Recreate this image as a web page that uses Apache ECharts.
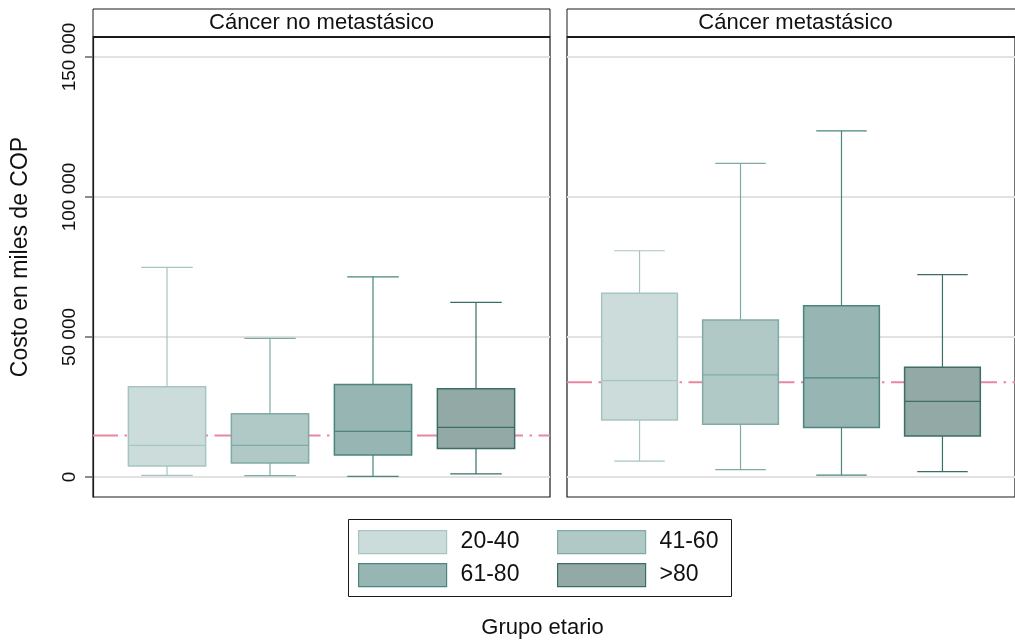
<!DOCTYPE html>
<html>
<head>
<meta charset="utf-8">
<script src="https://cdn.jsdelivr.net/npm/echarts@6/dist/echarts.min.js"></script>
<style>html,body{margin:0;padding:0;background:#fff}#c{width:1015px;height:641px}</style>
</head>
<body>
<div id="c"></div>
<script>
// ---- data (costs in thousands of COP) ----
const groups = ['20-40', '41-60', '61-80', '>80'];
const panels = ['Cáncer no metastásico', 'Cáncer metastásico'];
const yTicks = [0, 50000, 100000, 150000];

const noMetMin = [600, 500, 200, 1100];
const noMetQ1 = [3900, 5000, 7900, 10200];
const noMetMed = [11300, 11300, 16300, 17700];
const noMetQ3 = [32200, 22600, 33000, 31500];
const noMetMax = [74900, 49500, 71500, 62400];
const noMetRef = 14800;

const metMin = [5700, 2600, 700, 1900];
const metQ1 = [20400, 18800, 17700, 14600];
const metMed = [34400, 36500, 35400, 27000];
const metQ3 = [65600, 56100, 61200, 39200];
const metMax = [80800, 112000, 123600, 72300];
const metRef = 33800;

// ---- styles ----
const FONT = "'Liberation Sans', Arial, Helvetica, sans-serif";
const fills = ['#CBDCDA', '#B1C9C6', '#97B5B2', '#93A9A5'];
const strokes = ['#A6C5C2', '#80AAA4', '#4B857D', '#3C6E67'];
const BOX_W = 0.75, CAP_W = 0.5;
const XMIN = 1 - 74 / 103, XMAX = 4 + 74 / 103;
const YMIN = -50000 / 7, YMAX = 1100000 / 7;

function makeRender(gi) {
  return function (params, api) {
    const x = api.value(0);
    const lo = api.value(1), q1 = api.value(2), med = api.value(3), q3 = api.value(4), hi = api.value(5);
    const L = api.coord([x - BOX_W / 2, q3]);
    const R = api.coord([x + BOX_W / 2, q1]);
    const cL = api.coord([x - CAP_W / 2, hi]);
    const cR = api.coord([x + CAP_W / 2, lo]);
    const c = api.coord([x, med]);
    const yHi = api.coord([x, hi])[1], yLo = api.coord([x, lo])[1];
    const st = { stroke: strokes[gi], lineWidth: 1.2 };
    return {
      type: 'group',
      children: [
        { type: 'line', shape: { x1: c[0], y1: yHi, x2: c[0], y2: L[1] }, style: st },
        { type: 'line', shape: { x1: c[0], y1: R[1], x2: c[0], y2: yLo }, style: st },
        { type: 'line', shape: { x1: cL[0], y1: yHi, x2: cR[0], y2: yHi }, style: st },
        { type: 'line', shape: { x1: cL[0], y1: yLo, x2: cR[0], y2: yLo }, style: st },
        { type: 'rect', shape: { x: L[0], y: L[1], width: R[0] - L[0], height: R[1] - L[1] },
          style: { fill: fills[gi], stroke: strokes[gi], lineWidth: 1.5 } },
        { type: 'line', shape: { x1: L[0], y1: c[1], x2: R[0], y2: c[1] }, style: { stroke: strokes[gi], lineWidth: 1.3 } }
      ]
    };
  };
}

const panelData = [
  { min: noMetMin, q1: noMetQ1, med: noMetMed, q3: noMetQ3, max: noMetMax, ref: noMetRef },
  { min: metMin, q1: metQ1, med: metMed, q3: metQ3, max: metMax, ref: metRef }
];

const series = [];
panelData.forEach((p, pi) => {
  series.push({
    type: 'line', xAxisIndex: pi, yAxisIndex: pi, z: 1, silent: true,
    showSymbol: false, symbol: 'none',
    data: [[XMIN, p.ref], [XMAX, p.ref]],
    lineStyle: { color: '#E8879F', width: 2, type: [25, 6.5, 2.5, 6.5] }
  });
  groups.forEach((g, gi) => {
    series.push({
      type: 'custom', name: g, xAxisIndex: pi, yAxisIndex: pi, z: 3,
      renderItem: makeRender(gi),
      itemStyle: { color: fills[gi], borderColor: strokes[gi] },
      encode: { x: 0, y: [1, 2, 3, 4, 5] },
      data: [[gi + 1, p.min[gi], p.q1[gi], p.med[gi], p.q3[gi], p.max[gi]]]
    });
  });
});

const gridLefts = [93, 567];
const PW = 457;

const fmt = v => String(v).replace(/\B(?=(\d{3})+(?!\d))/g, ' ');

const option = {
  animation: false,
  backgroundColor: '#fff',
  textStyle: { fontFamily: FONT },
  grid: gridLefts.map(l => ({
    left: l, top: 37, width: PW, height: 460, show: true,
    borderColor: '#1a1a1a', borderWidth: 1.2, backgroundColor: 'transparent'
  })),
  xAxis: gridLefts.map((l, i) => ({
    type: 'value', gridIndex: i, min: XMIN, max: XMAX, show: false
  })),
  yAxis: gridLefts.map((l, i) => ({
    type: 'value', gridIndex: i, min: YMIN, max: YMAX,
    axisLine: { show: i === 0, lineStyle: { color: '#1a1a1a', width: 1.2 } },
    axisTick: { show: i === 0, length: 8, customValues: yTicks, lineStyle: { color: '#666', width: 1.5 } },
    axisLabel: {
      show: i === 0, customValues: yTicks, rotate: 90, margin: 14,
      fontSize: 19, color: '#111', fontFamily: FONT, formatter: v => fmt(v)
    },
    splitLine: { show: true, lineStyle: { color: '#E2E2E2', width: 1.8 } }
  })),
  legend: groups.map((g, gi) => ({
    data: [g], icon: 'rect', orient: 'horizontal',
    left: gi % 2 === 0 ? 358 : 557, top: gi < 2 ? 530 : 563,
    padding: 0, itemWidth: 88, itemHeight: 23, selectedMode: false,
    itemStyle: { color: fills[gi], borderColor: strokes[gi], borderWidth: 1.2 },
    textStyle: { fontSize: 23, color: '#111', fontFamily: FONT, padding: [0, 0, 0, 9] }
  })),
  graphic: [
    // panel header strips
    ...gridLefts.map((l, i) => ({
      type: 'rect', shape: { x: l, y: 9, width: PW, height: 28 },
      style: { fill: '#fff', stroke: '#1a1a1a', lineWidth: 1 }, z: 10
    })),
    ...gridLefts.map((l, i) => ({
      type: 'line', shape: { x1: l, y1: 37, x2: l + PW, y2: 37 },
      style: { stroke: '#1a1a1a', lineWidth: 2.2 }, z: 11
    })),
    ...gridLefts.map((l, i) => ({
      type: 'text', x: l + PW / 2, y: 23, z: 12,
      style: { text: panels[i], fontSize: 22, fontFamily: FONT, fill: '#111', align: 'center', verticalAlign: 'middle' }
    })),
    // y axis title
    { type: 'text', x: 20.5, y: 257, rotation: Math.PI / 2, z: 12,
      style: { text: 'Costo en miles de COP', fontSize: 23, fontFamily: FONT, fill: '#111', align: 'center', verticalAlign: 'middle' } },
    // legend frame
    { type: 'rect', shape: { x: 348.5, y: 519.5, width: 383, height: 77 },
      style: { fill: 'none', stroke: '#1a1a1a', lineWidth: 1 }, z: 0 },
    // x axis title
    { type: 'text', x: 542.5, y: 628, z: 12,
      style: { text: 'Grupo etario', fontSize: 22, fontFamily: FONT, fill: '#111', align: 'center', verticalAlign: 'middle' } }
  ],
  series: series
};

const chart = echarts.init(document.getElementById('c'), null, { renderer: 'canvas' });
chart.setOption(option);
</script>
</body>
</html>
